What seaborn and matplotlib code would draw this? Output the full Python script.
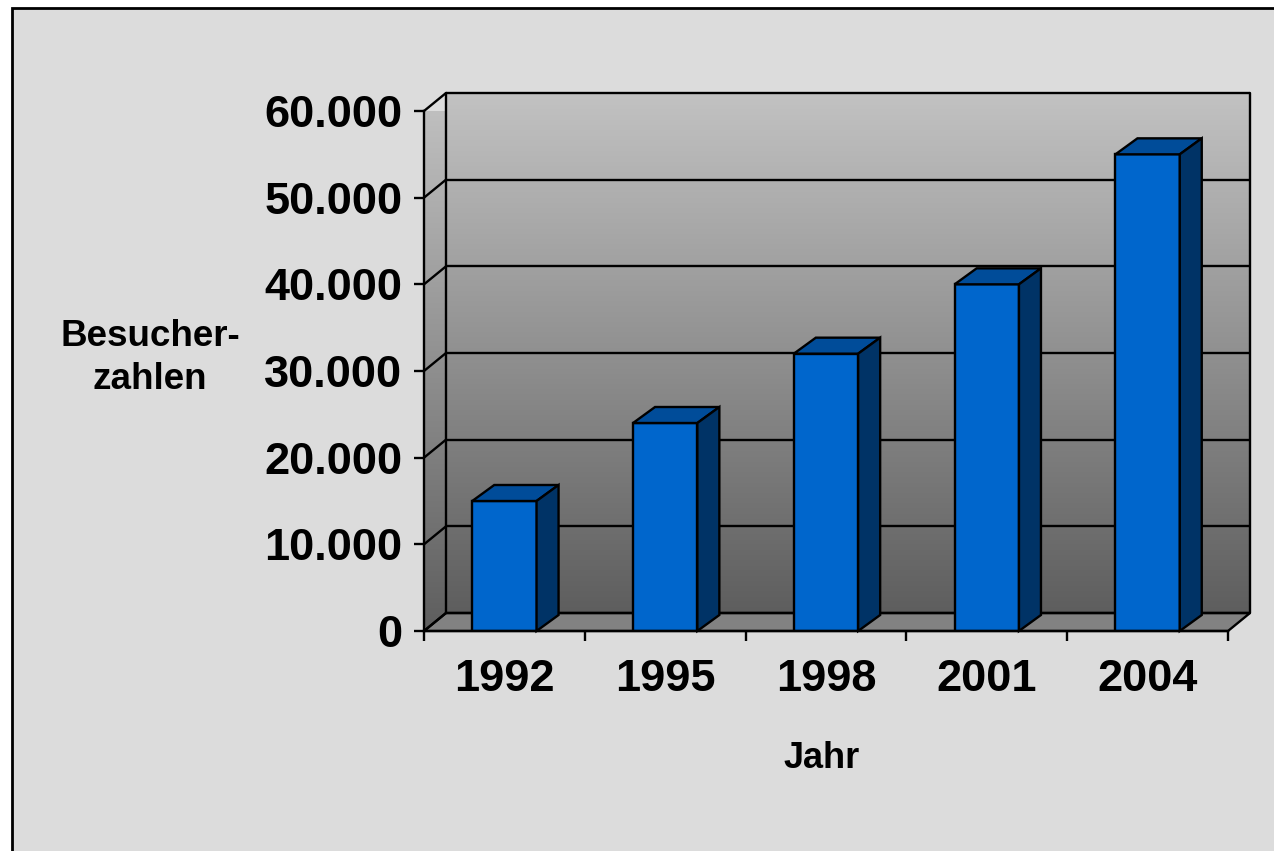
import matplotlib
matplotlib.use("Agg")
import matplotlib.pyplot as plt
import numpy as np
import pandas as pd
import seaborn as sns
from matplotlib.patches import Polygon, Rectangle
from matplotlib.ticker import FuncFormatter, FixedLocator

# ---- data ----
years = ["1992", "1995", "1998", "2001", "2004"]
visitors = [15000, 24000, 32000, 40000, 55000]
y_ticks = [0, 10000, 20000, 30000, 40000, 50000, 60000]
y_label = "Besucher-\nzahlen"
x_label = "Jahr"

sns.set_theme(style="white")
plt.rcParams["font.family"] = ["Liberation Sans", "DejaVu Sans"]
plt.rcParams["text.color"] = "black"
plt.rcParams["xtick.color"] = "black"
plt.rcParams["ytick.color"] = "black"
plt.rcParams["axes.labelcolor"] = "black"

LW = 1.7
W, H = 1274, 851
fig = plt.figure(figsize=(W / 100, H / 100), dpi=100, facecolor="white")

# outer grey chart area with border
fig.patches.append(Rectangle((12 / W, -0.01), 1.0, 1 - 8 / H + 0.01, transform=fig.transFigure,
                             facecolor="#DCDCDC", edgecolor="black", linewidth=2, zorder=-5))

# front plane of the plot
left, right = 424 / W, 1228 / W
bottom, top = 1 - 631 / H, 1 - 111 / H
ax = fig.add_axes([left, bottom, right - left, top - bottom])
ax.set_facecolor("none")
ax.set_zorder(1)

df = pd.DataFrame({"Jahr": years, "Besucher": visitors})
sns.barplot(data=df, x="Jahr", y="Besucher", ax=ax, width=0.4, color="#0066CC",
            saturation=1, edgecolor="black", linewidth=LW, zorder=3)

ymax = y_ticks[-1]
x0, x1 = -0.5, len(years) - 0.5
ax.set_xlim(x0, x1)
ax.set_ylim(0, ymax)

px_x = (len(years)) / (W * (right - left))      # data units per pixel in x
px_y = ymax / (H * (top - bottom))               # data units per pixel in y
dx = 22 * px_x
dy_wall = 18 * px_y
dy_bar = 16 * px_y

# back wall gradient
grad = np.linspace(0, 1, 256).reshape(-1, 1)
cmap = matplotlib.colors.LinearSegmentedColormap.from_list("wall", ["#5E5E5E", "#C2C2C2"])
im = ax.imshow(grad, cmap=cmap, origin="lower", aspect="auto",
               extent=[x0 + dx, x1 + dx, dy_wall, ymax + dy_wall], zorder=0.5, clip_on=False)
# side wall gradient
side_poly = Polygon([(x0, 0), (x0 + dx, dy_wall), (x0 + dx, ymax + dy_wall), (x0, ymax)],
                    closed=True, facecolor="none", edgecolor="none", transform=ax.transData)
im2 = ax.imshow(grad, cmap=cmap, origin="lower", aspect="auto",
                extent=[x0, x0 + dx, 0, ymax + dy_wall], zorder=0.5)
im2.set_clip_path(side_poly)
ax.set_xlim(x0, x1)
ax.set_ylim(0, ymax)

# floor
ax.add_patch(Polygon([(x0, 0), (x1, 0), (x1 + dx, dy_wall), (x0 + dx, dy_wall)], closed=True,
                     facecolor="#828282", edgecolor="black", linewidth=LW, zorder=0.8,
                     clip_on=False))

# gridlines on walls
for v in y_ticks:
    ax.plot([x0 + dx, x1 + dx], [v + dy_wall, v + dy_wall], color="black", lw=LW,
            zorder=1, clip_on=False, solid_capstyle="butt")
    ax.plot([x0, x0 + dx], [v, v + dy_wall], color="black", lw=LW, zorder=1, clip_on=False)
for xx in (x0 + dx, x1 + dx):
    ax.plot([xx, xx], [dy_wall, ymax + dy_wall], color="black", lw=LW, zorder=1, clip_on=False)

# 3D bar tops and sides
for p in list(ax.patches):
    if not isinstance(p, Rectangle) or p.get_height() <= 0:
        continue
    bx, bw, h = p.get_x(), p.get_width(), p.get_height()
    ax.add_patch(Polygon([(bx, h), (bx + bw, h), (bx + bw + dx, h + dy_bar), (bx + dx, h + dy_bar)],
                         closed=True, facecolor="#004C99", edgecolor="black", linewidth=LW,
                         zorder=3, clip_on=False))
    ax.add_patch(Polygon([(bx + bw, 0), (bx + bw + dx, dy_bar), (bx + bw + dx, h + dy_bar), (bx + bw, h)],
                         closed=True, facecolor="#003366", edgecolor="black", linewidth=LW,
                         zorder=3, clip_on=False))

# axes styling
for s in ("top", "right"):
    ax.spines[s].set_visible(False)
for s in ("left", "bottom"):
    ax.spines[s].set_linewidth(LW)
    ax.spines[s].set_color("black")
    ax.spines[s].set_zorder(4)

ax.set_yticks(y_ticks)
ax.yaxis.set_major_formatter(FuncFormatter(lambda v, _: f"{v:,.0f}".replace(",", ".")))
ax.tick_params(axis="y", direction="out", length=7.2, width=LW, color="black", pad=8.5,
               labelsize=32.5, left=True, labelcolor="black")
for t in ax.get_yticklabels():
    t.set_fontweight("bold")

ax.set_xticks(range(len(years)))
ax.set_xticklabels(years, fontsize=32.5, fontweight="bold")
ax.tick_params(axis="x", which="major", length=0, pad=20, labelcolor="black")
ax.xaxis.set_minor_locator(FixedLocator(np.arange(-0.5, len(years), 1.0)))
ax.tick_params(axis="x", which="minor", direction="out", length=7.2, width=LW,
               color="black", bottom=True)
ax.set_xlabel("")
ax.set_ylabel("")

fig.text(150 / W, 1 - 358 / H, y_label, ha="center", va="center", multialignment="center",
         fontsize=26.5, fontweight="bold", linespacing=1.3, color="black")
fig.text(822 / W, 1 - 768 / H, x_label, ha="center", va="baseline",
         fontsize=26, fontweight="bold", color="black")

fig.savefig("out.png", dpi=100, facecolor="white")
